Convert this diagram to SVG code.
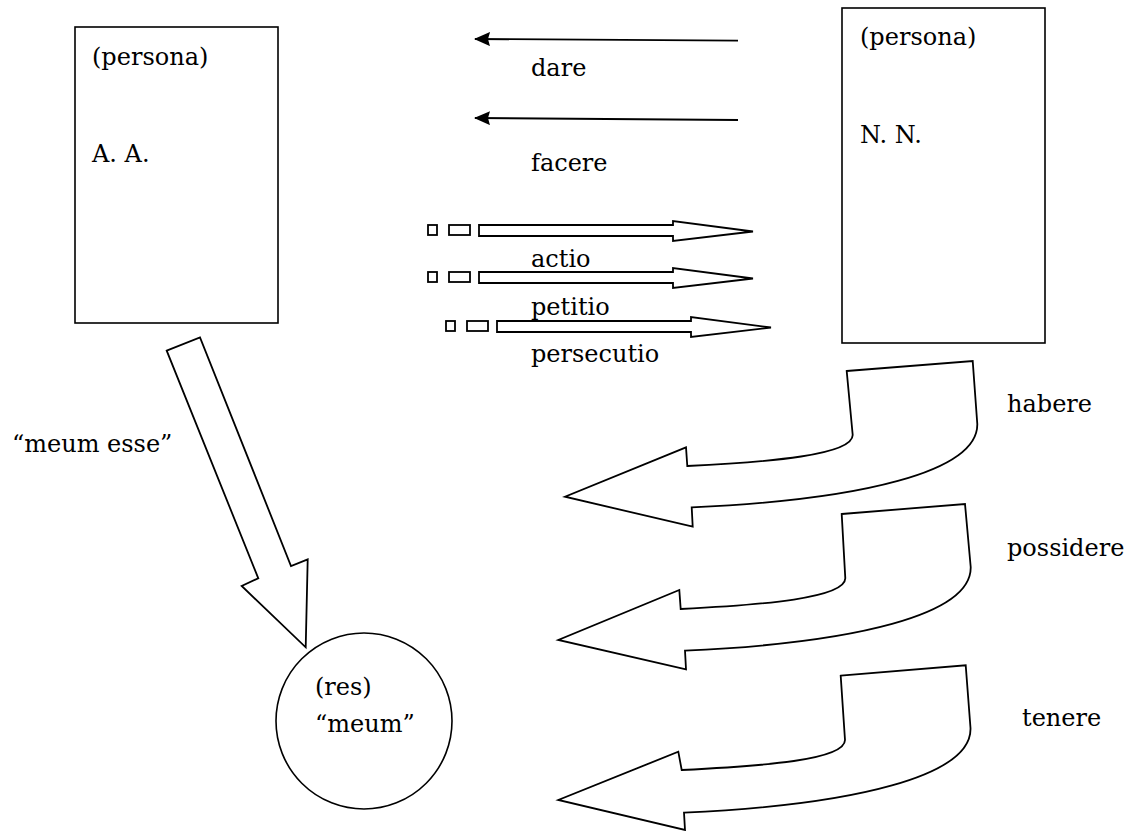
<svg xmlns="http://www.w3.org/2000/svg" width="1137" height="831" viewBox="0 0 1137 831">
<style>
  .t { font-family: "DejaVu Serif", "Liberation Serif", serif; font-size: 24px; fill: #000; }
  .box { fill: #fff; stroke: #000; stroke-width: 1.6; }
  .line { fill: none; stroke: #000; stroke-width: 1.8; }
  .blk { fill: #fff; stroke: #000; stroke-width: 1.8; stroke-linejoin: miter; }
</style>
<defs>
  <marker id="ah" viewBox="0 0 16 14" refX="15" refY="7" markerWidth="16" markerHeight="14" markerUnits="userSpaceOnUse" orient="auto">
    <path d="M0,0 L16,7 L0,14 L2,7 Z" fill="#000"/>
  </marker>
  <g id="dashArrow">
    <rect x="428" y="225" width="9" height="10" class="blk"/>
    <rect x="449" y="225" width="21" height="10" class="blk"/>
    <path d="M479,225 L673,225 L673,221 L753,231.5 L673,241 L673,236 L479,236 Z" class="blk"/>
  </g>
</defs>
<rect width="1137" height="831" fill="#fff"/>

<g id="node-aa">
  <rect x="75" y="27" width="203" height="296" class="box"/>
  <text x="92" y="65" class="t">(persona)</text>
  <text x="92" y="162" class="t">A. A.</text>
</g>

<g id="node-nn">
  <rect x="842" y="8" width="203" height="335" class="box"/>
  <text x="860" y="45" class="t">(persona)</text>
  <text x="860" y="143" class="t">N. N.</text>
</g>

<g id="node-res">
  <circle cx="364" cy="721" r="88" class="box"/>
  <text x="315" y="695" class="t">(res)</text>
  <text x="315" y="732" class="t">“meum”</text>
</g>

<g id="connectors">
  <line x1="738" y1="40.7" x2="475" y2="39" class="line" marker-end="url(#ah)"/>
  <line x1="738" y1="120" x2="475" y2="118" class="line" marker-end="url(#ah)"/>
  <use href="#dashArrow"/>
  <use href="#dashArrow" transform="translate(0,47)"/>
  <use href="#dashArrow" transform="translate(18,96)"/>
  <path d="M166.7,350.7 L200,337.3 L291,566 L307.7,559.3 L305.7,647.3 L241.7,586 L258.3,578.3 Z" class="blk"/>
  <path d="M846.7,371 L972.7,361 L977.3,424 C978,472 860,500 691.7,507.3 L692.7,526.7 L565,496.7 L686,447.3 L687.3,466 C770,462 852.7,455 852.7,435 Z" class="blk"/>
  <path d="M841.7,514 L965,504 L970.7,567 C972,615 855,643 685,650.7 L686,669.3 L558.3,640 L679.3,590 L680.7,609 C763,605 845.3,598 845.3,578.3 Z" class="blk"/>
  <path d="M840.7,675.7 L965.7,665.3 L970.5,728 C972,776 855,805 684,812.7 L685,830 L558.3,800 L678.3,751.7 L681.7,770 C763,766 845,760 845,740 Z" class="blk"/>
</g>

<g id="labels">
  <text x="531" y="76" class="t">dare</text>
  <text x="531" y="171" class="t">facere</text>
  <text x="531" y="267" class="t">actio</text>
  <text x="531" y="315" class="t">petitio</text>
  <text x="531" y="362" class="t">persecutio</text>
  <text x="12" y="452" class="t">“meum esse”</text>
  <text x="1007" y="412" class="t">habere</text>
  <text x="1007" y="556" class="t">possidere</text>
  <text x="1022" y="726" class="t">tenere</text>
</g>
</svg>
